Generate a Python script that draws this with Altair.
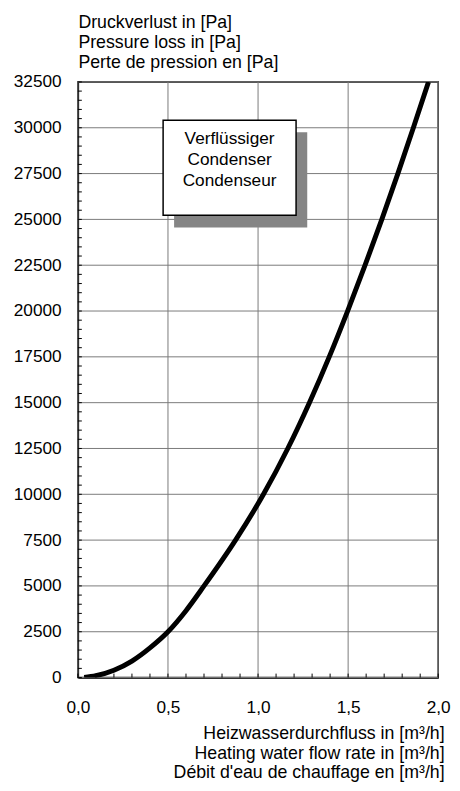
import altair as alt
import pandas as pd

# ---- data ----
flow = [0.035, 0.1, 0.2, 0.3, 0.4, 0.5, 0.6, 0.7, 0.875, 1.03, 1.165,
        1.285, 1.395, 1.497, 1.594, 1.687, 1.776, 1.862, 1.946]
pressure = [0, 100, 400, 900, 1620, 2500, 3650, 5000, 7500, 10000, 12500,
            15000, 17500, 20000, 22500, 25000, 27500, 30000, 32500]

x_ticks = [0.0, 0.5, 1.0, 1.5, 2.0]
y_ticks = list(range(0, 32501, 2500))
x_minor = [i / 10 for i in range(0, 21)]
y_minor = list(range(0, 32501, 500))

y_title = ["Druckverlust in [Pa]", "Pressure loss in [Pa]", "Perte de pression en [Pa]"]
x_title = ["Heizwasserdurchfluss in [m³/h]", "Heating water flow rate in [m³/h]",
           "Débit d'eau de chauffage en [m³/h]"]
box_text = ["Verflüssiger", "Condenser", "Condenseur"]

# annotation box (data units): x0, x1, y0, y1
box_extent = [0.473, 1.211, 25220, 30410]
shadow_extent = [0.534, 1.273, 24560, 29760]
box_text_pos = [0.842, 29385]

FONT = "Liberation Sans"
LFS = 17.5
TFS = 18
W, H = 366, 605

xs = alt.Scale(domain=[0, 2], nice=False, zero=False)
ys = alt.Scale(domain=[0, 32500], nice=False)

x_axis = alt.Axis(
    values=x_ticks, labelExpr="replace(format(datum.value, '.1f'), '.', ',')",
    grid=False, ticks=False, labelPadding=22, labelFlush=False, labelOverlap=False,
    labelFont=FONT, labelFontSize=LFS, labelColor="black",
    domainColor="black", domainWidth=1.5,
    title=x_title, titleFont=FONT, titleFontSize=TFS, titleFontWeight="normal",
    titleColor="black", titleAlign="right", titleAnchor="end", titleX=W + 6, titleY=62,
    titleBaseline="alphabetic", titleLineHeight=20)
y_axis = alt.Axis(
    values=y_ticks, format="d", grid=False, ticks=False, labelPadding=17,
    labelOverlap=False, labelFlush=False,
    labelFont=FONT, labelFontSize=LFS, labelColor="black",
    domainColor="black", domainWidth=1.5,
    title=y_title, titleFont=FONT, titleFontSize=TFS, titleFontWeight="normal",
    titleColor="black", titleAngle=0, titleAlign="left", titleAnchor="start",
    titleX=0, titleY=-55, titleBaseline="alphabetic", titleLineHeight=20)

X = alt.X("x:Q", scale=xs, axis=x_axis)
Y = alt.Y("y:Q", scale=ys, axis=y_axis)

GRID = "#7a7a7a"

hgrid = alt.Chart(pd.DataFrame({"y": y_ticks})).mark_rule(
    color=GRID, strokeWidth=1).encode(y=Y)
vgrid = alt.Chart(pd.DataFrame({"x": x_ticks})).mark_rule(
    color=GRID, strokeWidth=1).encode(x=X)

curve_df = pd.DataFrame({"x": flow, "y": pressure})
curve = alt.Chart(curve_df).mark_line(
    color="black", strokeWidth=5, interpolate="monotone", clip=True
).encode(x=X, y=Y)

shadow_df = pd.DataFrame({"x": [shadow_extent[0]], "x2": [shadow_extent[1]],
                          "y": [shadow_extent[2]], "y2": [shadow_extent[3]]})
shadow = alt.Chart(shadow_df).mark_rect(color="#858585").encode(
    x=X, x2="x2:Q", y=Y, y2="y2:Q")

box_df = pd.DataFrame({"x": [box_extent[0]], "x2": [box_extent[1]],
                       "y": [box_extent[2]], "y2": [box_extent[3]]})
box = alt.Chart(box_df).mark_rect(fill="white", stroke="black", strokeWidth=1.5).encode(
    x=X, x2="x2:Q", y=Y, y2="y2:Q")

text_df = pd.DataFrame({"x": [box_text_pos[0]], "y": [box_text_pos[1]],
                        "t": ["\n".join(box_text)]})
label = alt.Chart(text_df).mark_text(
    font=FONT, fontSize=LFS, align="center", baseline="middle",
    lineBreak="\n", lineHeight=21.5, color="black"
).encode(x=X, y=Y, text="t:N")

ymin = alt.Chart(pd.DataFrame({"y": y_minor})).mark_rule(
    color="black", strokeWidth=1).encode(y=Y, x=alt.value(0), x2=alt.value(4))

xmin = alt.Chart(pd.DataFrame({"x": x_minor})).mark_rule(
    color="black", strokeWidth=1).encode(x=X, y=alt.value(H), y2=alt.value(H - 4))

chart = alt.layer(hgrid, vgrid, curve, shadow, box, label, ymin, xmin).properties(
    width=W, height=H,
    autosize=alt.AutoSizeParams(type="none"),
    padding={"left": 71, "top": 69, "right": 14, "bottom": 101},
    background="white",
).configure_view(
    stroke="black", strokeWidth=1.5
)

chart.save("out.html", embed_options={"renderer": "svg", "actions": False})
